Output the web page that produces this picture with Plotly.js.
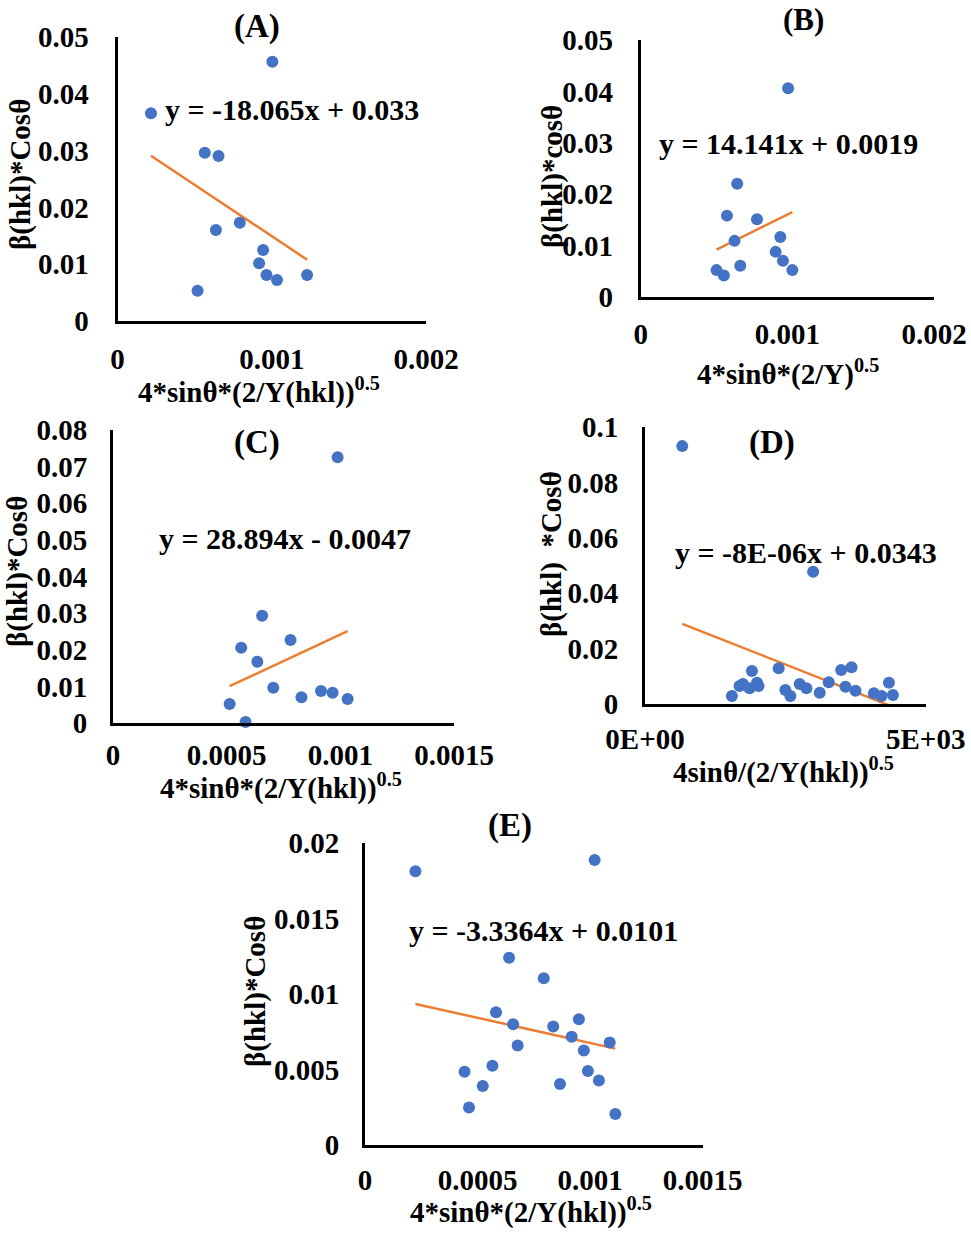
<!DOCTYPE html>
<html>
<head>
<meta charset="utf-8">
<script src="https://cdn.plot.ly/plotly-3.0.1.min.js"></script>
<style>html,body{margin:0;padding:0;background:#fff}#chart{width:971px;height:1238px}</style>
</head>
<body>
<div id="chart"></div>
<script>
// ---------- DATA ----------
// Panel A
const aX = [0.001004,0.000217,0.000566,0.000655,0.000793,0.000638,0.000944,0.000918,0.000966,0.001034,0.001229,0.000519];
const aY = [0.04565,0.03656,0.02963,0.02905,0.01731,0.01602,0.0125,0.01015,0.0081,0.00722,0.0081,0.00534];
const aFit = [-18.065, 0.033];
const aEq = "y = -18.065x + 0.033";
// Panel B
const bX = [0.001005,0.000658,0.000588,0.000793,0.00064,0.000952,0.00092,0.00097,0.001034,0.000679,0.000517,0.000567];
const bY = [0.04063,0.02203,0.01583,0.01512,0.01092,0.01169,0.00878,0.00704,0.00523,0.00607,0.00523,0.0042];
const bFit = [14.141, 0.0019];
const bEq = "y = 14.141x + 0.0019";
// Panel C
const cX = [0.000988,0.000656,0.000781,0.000564,0.000635,0.000705,0.000829,0.000915,0.000966,0.001032,0.000513,0.000583];
const cY = [0.07254,0.02935,0.02272,0.02062,0.0168,0.00971,0.00709,0.00881,0.00835,0.00663,0.00526,0.00035];
const cFit = [28.894, -0.0047];
const cEq = "y = 28.894x - 0.0047";
// Panel D
const dX = [664,2995,1548,1684,1745,1905,1863,1995,2023,2381,2500,2589,2755,2875,3112,3273,3495,3679,3571,3750,4077,4214,4345,4416];
const dY = [0.0932,0.0478,0.00289,0.0065,0.00723,0.0119,0.00567,0.0077,0.0065,0.0129,0.00506,0.00289,0.00723,0.00567,0.00408,0.00784,0.01229,0.01326,0.00625,0.0048,0.00387,0.00289,0.0077,0.00325];
const dFit = [-8e-6, 0.0343];
const dEq = "y = -8E-06x + 0.0343";
// Panel E
const eX = [0.000224,0.00102,0.00064,0.000794,0.000582,0.000658,0.000836,0.00095,0.000918,0.001087,0.000678,0.000972,0.000566,0.000442,0.00099,0.000523,0.000866,0.001039,0.000462,0.001112];
const eY = [0.01815,0.0189,0.01242,0.01105,0.0088,0.008,0.00785,0.00833,0.00718,0.00679,0.00659,0.00626,0.00526,0.00486,0.00491,0.00391,0.00405,0.00427,0.00248,0.00206];
const eFit = [-3.3364, 0.0101];
const eEq = "y = -3.3364x + 0.0101";

// Tick values / labels
const xTicks2 = [0, 0.001, 0.002];
const xTickText2 = ["0", "0.001", "0.002"];
const xTicks15 = [0, 0.0005, 0.001, 0.0015];
const xTickText15 = ["0", "0.0005", "0.001", "0.0015"];
const dXTicks = [0, 5000];
const dXTickText = ["0E+00", "5E+03"];
const yTicksA = [0, 0.01, 0.02, 0.03, 0.04, 0.05];
const yTickTextA = ["0", "0.01", "0.02", "0.03", "0.04", "0.05"];
const yTicksC = [0, 0.01, 0.02, 0.03, 0.04, 0.05, 0.06, 0.07, 0.08];
const yTickTextC = ["0", "0.01", "0.02", "0.03", "0.04", "0.05", "0.06", "0.07", "0.08"];
const yTicksD = [0, 0.02, 0.04, 0.06, 0.08, 0.1];
const yTickTextD = ["0", "0.02", "0.04", "0.06", "0.08", "0.1"];
const yTicksE = [0, 0.005, 0.01, 0.015, 0.02];
const yTickTextE = ["0", "0.005", "0.01", "0.015", "0.02"];

const panelLabels = ["(A)", "(B)", "(C)", "(D)", "(E)"];
const xTitles = ["4*sinθ*(2/Y(hkl))<sup>0.5</sup>", "4*sinθ*(2/Y)<sup>0.5</sup>", "4*sinθ*(2/Y(hkl))<sup>0.5</sup>", "4sinθ/(2/Y(hkl))<sup>0.5</sup>", "4*sinθ*(2/Y(hkl))<sup>0.5</sup>"];
const yTitles = ["β(hkl)*Cosθ", "β(hkl)*cosθ", "β(hkl)*Cosθ", "β(hkl)  *Cosθ", "β(hkl)*Cosθ"];

// ---------- BUILD ----------
const W = 971, H = 1238;
const px = x => x / W;
const py = y => 1 - y / H;
const FONT = "Liberation Serif, Times New Roman, serif";
const BLUE = "#4472C4", ORANGE = "#ED7D31";

function fitLine(xs, fit) {
  const lo = Math.min(...xs), hi = Math.max(...xs);
  return {x: [lo, hi], y: [fit[0] * lo + fit[1], fit[0] * hi + fit[1]]};
}

const sets = [
  {x: aX, y: aY, fit: aFit},
  {x: bX, y: bY, fit: bFit},
  {x: cX, y: cY, fit: cFit},
  {x: dX, y: dY, fit: dFit},
  {x: eX, y: eY, fit: eFit}
];

const traces = [];
sets.forEach((s, i) => {
  const ax = i === 0 ? "" : String(i + 1);
  const fl = fitLine(s.x, s.fit);
  traces.push({type: "scatter", mode: "lines", x: fl.x, y: fl.y, xaxis: "x" + ax, yaxis: "y" + ax,
    line: {color: ORANGE, width: 2.5}, hoverinfo: "skip"});
  traces.push({type: "scatter", mode: "markers", x: s.x, y: s.y, xaxis: "x" + ax, yaxis: "y" + ax,
    marker: {color: BLUE, size: 12}, cliponaxis: false});
});

// plot areas in pixels: [left, right, top, bottom]
const boxes = [
  [117.5, 426, 37, 321],
  [640.7, 934, 40, 297],
  [113, 454, 430, 723.3],
  [645, 925.7, 427.3, 704],
  [365, 702.7, 843.3, 1145]
];
const xRanges = [[0, 0.002], [0, 0.002], [0, 0.0015], [0, 5000], [0, 0.0015]];
const yRanges = [[0, 0.05], [0, 0.05], [0, 0.08], [0, 0.1], [0, 0.02]];
const xtv = [xTicks2, xTicks2, xTicks15, dXTicks, xTicks15];
const xtt = [xTickText2, xTickText2, xTickText15, dXTickText, xTickText15];
const ytv = [yTicksA, yTicksA, yTicksC, yTicksD, yTicksE];
const ytt = [yTickTextA, yTickTextA, yTickTextC, yTickTextD, yTickTextE];
const xLens = [10, 9, 4, 7, 7];
const yLens = [20, 19, 17, 18, 17];

const tickFont = {family: FONT, size: 29, color: "#000", weight: "bold"};
const layout = {
  width: W, height: H, margin: {l: 0, r: 0, t: 0, b: 0},
  paper_bgcolor: "#fff", plot_bgcolor: "rgba(0,0,0,0)",
  showlegend: false, annotations: []
};

boxes.forEach((b, i) => {
  const ax = i === 0 ? "" : String(i + 1);
  layout["xaxis" + ax] = {
    domain: [px(b[0]), px(b[1])], anchor: "y" + ax, range: xRanges[i],
    showgrid: false, zeroline: false, showline: true, linecolor: "#000", linewidth: 3,
    tickmode: "array", tickvals: xtv[i], ticktext: xtt[i],
    ticks: "outside", ticklen: xLens[i], tickcolor: "rgba(0,0,0,0)",
    tickfont: tickFont, fixedrange: true
  };
  layout["yaxis" + ax] = {
    domain: [py(b[3]), py(b[2])], anchor: "x" + ax, range: yRanges[i],
    showgrid: false, zeroline: false, showline: true, linecolor: "#000", linewidth: 3,
    tickmode: "array", tickvals: ytv[i], ticktext: ytt[i],
    ticks: "outside", ticklen: yLens[i], tickcolor: "rgba(0,0,0,0)",
    tickfont: tickFont, fixedrange: true
  };
});

// annotation positions (pixels)
const titlePos = [[257, 27], [803, 19], [257, 442], [772, 442], [510, 825]];
const eqPos = [[163, 110], [657, 143], [157, 538], [673, 552], [407, 930]];
const xtPos = [[259, 390], [788, 373], [281, 786], [783, 770], [531, 1210]];
const ytPos = [[20, 175], [552, 177], [17, 572], [552, 554], [255, 992]];
const eqs = [aEq, bEq, cEq, dEq, eEq];

const txtFont = s => ({family: FONT, size: s, color: "#000", weight: "bold"});
for (let i = 0; i < 5; i++) {
  layout.annotations.push({xref: "paper", yref: "paper", x: px(titlePos[i][0]), y: py(titlePos[i][1]),
    xanchor: "center", yanchor: "middle", text: panelLabels[i], showarrow: false, font: txtFont(i === 1 ? 31 : 33)});
  layout.annotations.push({xref: "paper", yref: "paper", x: px(eqPos[i][0]), y: py(eqPos[i][1]),
    xanchor: "left", yanchor: "middle", text: eqs[i], showarrow: false, font: txtFont(30)});
  layout.annotations.push({xref: "paper", yref: "paper", x: px(xtPos[i][0]), y: py(xtPos[i][1]),
    xanchor: "center", yanchor: "middle", text: xTitles[i], showarrow: false, font: txtFont(29)});
  layout.annotations.push({xref: "paper", yref: "paper", x: px(ytPos[i][0]), y: py(ytPos[i][1]),
    xanchor: "center", yanchor: "middle", textangle: -90, text: yTitles[i], showarrow: false, font: txtFont(29)});
}

Plotly.newPlot("chart", traces, layout, {staticPlot: true, displayModeBar: false});
</script>
</body>
</html>
